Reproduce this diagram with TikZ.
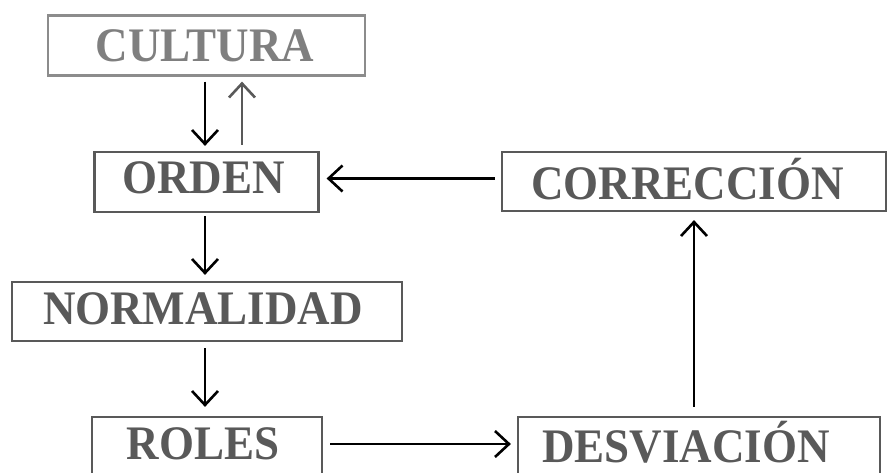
\documentclass[tikz,border=0pt]{standalone}
\usepackage{fontspec}
\usepackage{graphicx}
\setmainfont{Liberation Serif}
\usetikzlibrary{arrows.meta,calc}
\definecolor{lightgr}{HTML}{7F7F7F}
\definecolor{lightbd}{HTML}{8C8C8C}
\definecolor{darkgr}{HTML}{595959}
\newcommand{\tallword}[1]{\scalebox{1}[1.07]{#1}}
\begin{document}
\begin{tikzpicture}[x=1pt,y=-1pt,
  box/.style={draw=darkgr, line width=2.2pt, inner sep=0pt, rectangle},
  lbl/.style={inner sep=0pt, text height=31pt, text depth=0pt, font=\fontsize{45}{50}\selectfont\bfseries, text=darkgr},
  arr/.style={line width=2.6pt, -{Straight Barb[length=14pt,width=26pt]}}]
\useasboundingbox (0,0) rectangle (887,473);
\begin{scope}
\clip (0,0) rectangle (887,473);
% boxes
\node[box, draw=lightbd, minimum width=317pt, minimum height=60pt] (cultura) at (206.5,45.5) {};
\node[box, minimum width=224pt, minimum height=60pt] (orden) at (206.5,182) {};
\node[box, minimum width=384pt, minimum height=59pt] (corr) at (694,181.5) {};
\node[box, minimum width=390pt, minimum height=59pt] (normal) at (207,311.5) {};
\node[box, minimum width=230pt, minimum height=60pt] (roles) at (207,447) {};
\node[box, minimum width=362pt, minimum height=60pt] (desv) at (699,447) {};
% labels
\node[lbl, text=lightgr] (tcultura) at (205,46.5) {\tallword{CULTURA}};
\node[lbl] (torden) at (203.5,178) {\tallword{ORDEN}};
\node[lbl] (tcorr) at (687.5,184) {\tallword{CORRECCIÓN}};
\node[lbl] (tnormal) at (203,309) {\tallword{NORMALIDAD}};
\node[lbl] (troles) at (203,443.5) {\tallword{ROLES}};
\node[lbl] (tdesv) at (686,446.5) {\tallword{DESVIACIÓN}};
% connectors
\draw[arr, shorten <=5pt, shorten >=5pt] ([xshift=-1.5pt]cultura.south) -- ([xshift=-1.5pt]cultura.south |- orden.north);
\draw[arr, draw=darkgr, shorten <=6pt, shorten >=5pt] ([xshift=35.5pt]orden.north) -- ([xshift=35.5pt]orden.north |- cultura.south);
\draw[arr, shorten <=6pt, shorten >=7pt] ([yshift=3pt]corr.west) -- ([yshift=3pt]corr.west -| orden.east);
\draw[arr, shorten <=3pt, shorten >=6pt] ([xshift=-1.5pt]orden.south) -- ([xshift=-1.5pt]orden.south |- normal.north);
\draw[arr, shorten <=6pt, shorten >=9pt] ([xshift=-2pt]normal.south) -- ([xshift=-2pt]normal.south |- roles.north);
\draw[arr, shorten <=7pt, shorten >=6pt] ([yshift=3pt]roles.east) -- ([yshift=3pt]roles.east -| desv.west);
\draw[arr, shorten <=9pt, shorten >=8pt] ([xshift=-5pt]desv.north) -- ([xshift=-5pt]desv.north |- corr.south);
\end{scope}
\end{tikzpicture}
\end{document}
